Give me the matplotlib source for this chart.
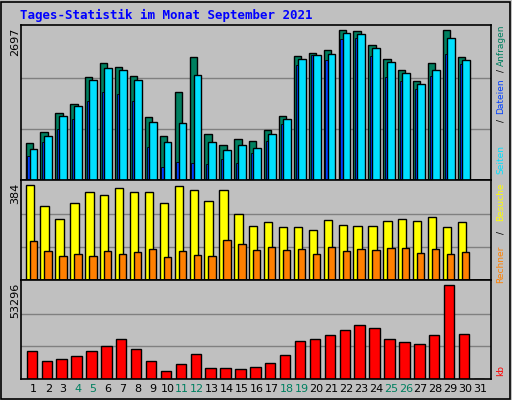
import matplotlib
matplotlib.use('Agg')
import matplotlib.pyplot as plt
import numpy as np

# daily statistics, September 2021
days = list(range(1, 32))
anfragen = [650, 847, 1186, 1329, 1811, 2061, 1990, 1829, 1114, 775, 1543, 2168, 811, 614, 722, 686,
            882, 1132, 2186, 2240, 2293, 2633, 2615, 2365, 2133, 1936, 1740, 2061, 2633, 2168, 0]
dateien = [543, 775, 1132, 1293, 1757, 1972, 1936, 1757, 1025, 668, 1007, 1847, 668, 525, 614, 561,
           811, 1079, 2133, 2204, 2222, 2579, 2561, 2311, 2079, 1883, 1686, 1936, 2490, 2115, 0]
seiten = [418, 668, 900, 1079, 1382, 1543, 1507, 1382, 579, 221, 311, 293, 275, 364, 293, 472,
          686, 989, 2025, 2204, 2115, 2472, 2490, 2186, 1811, 1740, 1597, 1829, 2222, 2043, 0]
besuche = [368, 288, 237, 300, 340, 328, 356, 340, 340, 300, 364, 348, 308, 348, 256, 209,
           225, 205, 205, 193, 233, 213, 209, 209, 229, 237, 229, 245, 205, 225, 0]
rechner = [153, 113, 93, 101, 93, 113, 101, 109, 121, 89, 113, 97, 93, 157, 141, 117,
           129, 117, 121, 101, 129, 113, 121, 117, 125, 125, 105, 121, 101, 109, 0]
kb = [15280, 9690, 10810, 12490, 15280, 18080, 21990, 16400, 9690, 4100, 8010, 13600, 5780, 5780, 5220, 6340,
      8570, 13050, 20870, 21990, 23670, 26470, 29260, 27580, 21990, 20310, 19200, 23670, 51070, 24230, 0]
weekend = [4, 5, 11, 12, 18, 19, 25, 26]

top_max = 2697
mid_max = 384
kb_max = 53296

BG = '#c0c0c0'
W, H = 512, 400
fig = plt.figure(figsize=(W / 100, H / 100), dpi=100, facecolor=BG)

def ax_px(x0, y0, x1, y1):
    return fig.add_axes([x0 / W, 1 - y1 / H, (x1 - x0) / W, (y1 - y0) / H])

x = np.array(days)
xlim = (0.154, 31.69)

def style(ax, ymax):
    ax.set_facecolor(BG)
    ax.set_xlim(*xlim)
    ax.set_ylim(0, ymax * 1.01)
    for y in (ymax / 3, ymax * 2 / 3):
        ax.axhline(y, color='#808080', lw=1, zorder=0)
    ax.set_xticks([])
    ax.set_yticks([])
    for s in ax.spines.values():
        s.set_color('black')
        s.set_linewidth(1.2)

ax1 = ax_px(21, 25, 491, 180)
style(ax1, top_max)
ax1.bar(x - 0.54, anfragen, width=0.49, align='edge', color='#008060', edgecolor='black', lw=1)
ax1.bar(x - 0.27, dateien, width=0.52, align='edge', color='#00e0ff', edgecolor='black', lw=1, zorder=3)
ax1.bar(x - 0.42, seiten, width=0.15, align='edge', color='#0040ff', edgecolor='black', lw=0.6, zorder=2)

ax2 = ax_px(21, 180, 491, 280)
style(ax2, mid_max)
ax2.bar(x - 0.54, besuche, width=0.56, align='edge', color='#ffff00', edgecolor='black', lw=1)
ax2.bar(x - 0.27, rechner, width=0.49, align='edge', color='#ff8000', edgecolor='black', lw=1)

ax3 = ax_px(21, 280, 491, 379)
style(ax3, kb_max)
ax3.bar(x - 0.47, kb, width=0.70, align='edge', color='#ff0000', edgecolor='black', lw=1)

# day labels
for d in days:
    px = 33.3 + (d - 1) * 14.9
    fig.text(px / W, 1 - 389 / H, str(d), ha='center', va='center', fontsize=8,
             color='#008060' if d in weekend else 'black')

fig.text(20 / W, 1 - 15 / H, 'Tages-Statistik im Monat September 2021', family='DejaVu Sans Mono',
         weight='bold', fontsize=9, color='#0000ff', va='center')

for lbl, ytop in (('2697', 28), ('384', 183), ('53296', 283)):
    fig.text(15 / W, 1 - ytop / H, lbl, rotation=90, ha='center', va='top', fontsize=8)

right = [('Anfragen', 45, '#008060'), ('/', 70, 'black'), ('Dateien', 96, '#0040ff'), ('/', 120, 'black'),
         ('Seiten', 160, '#00e0ff'), ('Besuche', 202, '#ffff00'), ('/', 233, 'black'),
         ('Rechner', 264, '#ff8000'), ('kb', 371, '#ff0000')]
for lbl, yc, col in right:
    fig.text(501 / W, 1 - yc / H, lbl, rotation=90, ha='center', va='center', fontsize=6.5, color=col)

# outer frame
fig.patches.append(plt.Rectangle((1 / W, 1 / H), 1 - 3 / W, 1 - 3 / H, transform=fig.transFigure,
                                 fill=False, edgecolor='black', lw=1.2))

fig.savefig('out.png', dpi=100, facecolor=BG)
